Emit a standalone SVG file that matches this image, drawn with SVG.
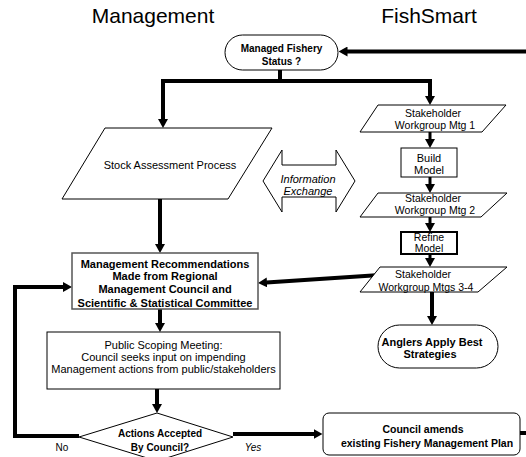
<svg xmlns="http://www.w3.org/2000/svg" width="526" height="457" viewBox="0 0 526 457">
<style>
text{font-family:"Liberation Sans",Arial,sans-serif;fill:#000;text-anchor:middle}
.t{font-size:21px}
.r{font-size:11px}
.k{font-size:10.5px}
.b{font-size:11px;font-weight:bold}
.s{font-size:10px;font-weight:bold}
.i{font-size:11px;font-style:italic}
.shape{fill:#fff;stroke:#000;stroke-width:1}
.c{fill:none;stroke:#000;stroke-width:4;stroke-linejoin:miter}
.c3{fill:none;stroke:#000;stroke-width:3}
</style>
<defs>
<marker id="ah" viewBox="0 0 9 10" refX="0.5" refY="5" markerWidth="9" markerHeight="10" markerUnits="userSpaceOnUse" orient="auto">
<path d="M0,0 L9,5 L0,10 z" fill="#000"/>
</marker>
</defs>
<rect width="526" height="457" fill="#fff"/>
<text class="t" x="153" y="23">Management</text>
<text class="t" x="429" y="23">FishSmart</text>
<g id="connectors">
<path class="c" d="M526,51.5 H347" marker-end="url(#ah)"/>
<path class="c" d="M280,70 V81"/>
<path class="c" d="M161,81 H432"/>
<path class="c" d="M163,81 V119.5" marker-end="url(#ah)"/>
<path class="c" d="M430,81 V96.5" marker-end="url(#ah)"/>
<path class="c" d="M160,199 V244.5" marker-end="url(#ah)"/>
<path class="c" d="M160,309 V323.5" marker-end="url(#ah)"/>
<path class="c" d="M157,389 V404.5" marker-end="url(#ah)"/>
<path class="c" d="M79,436 H15 V287 H63.5" marker-end="url(#ah)"/>
<path class="c" d="M233,434 H314" marker-end="url(#ah)"/>
<path class="c" d="M520,433 H526"/>
<path class="c" d="M380,275 L266.5,282.4" marker-end="url(#ah)"/>
<path class="c" d="M432,292 V316.5" marker-end="url(#ah)"/>
<path class="c3" d="M430,132 V139.5" marker-end="url(#ah)"/>
<path class="c3" d="M430,177 V184.5" marker-end="url(#ah)"/>
<path class="c3" d="M430,217 V223.5" marker-end="url(#ah)"/>
<path class="c3" d="M430,254 V258.5" marker-end="url(#ah)"/>
</g>
<g id="status">
<rect class="shape" x="225" y="35" width="113" height="35" rx="17.5"/>
<text class="s" x="281.5" y="52">Managed Fishery</text>
<text class="s" x="281.5" y="64.5">Status ?</text>
</g>
<g id="stock">
<polygon class="shape" points="105,128 272,128 228,199 62,199"/>
<text class="r" x="170" y="169">Stock Assessment Process</text>
</g>
<g id="exchange">
<polygon class="shape" points="263,181 282,150 282,165 336,165 336,150 355,181 336,212 336,197 282,197 282,212"/>
<text class="i" x="308" y="183">Information</text>
<text class="i" x="308" y="195">Exchange</text>
</g>
<g id="mtg1">
<polygon class="shape" points="378,105 506,105 482,132 360,132"/>
<text class="k" x="433" y="117">Stakeholder</text>
<text class="k" x="435" y="129">Workgroup Mtg 1</text>
</g>
<g id="build">
<rect class="shape" x="401" y="148" width="56" height="29"/>
<text class="r" x="429" y="162">Build</text>
<text class="r" x="429" y="174">Model</text>
</g>
<g id="mtg2">
<polygon class="shape" points="378,193 507,193 481,217 360,217"/>
<text class="k" x="433" y="202">Stakeholder</text>
<text class="k" x="435" y="214">Workgroup Mtg 2</text>
</g>
<g id="refine">
<rect class="shape" x="401" y="232" width="56" height="22" style="stroke-width:2"/>
<text class="k" x="429" y="241">Refine</text>
<text class="k" x="429" y="252">Model</text>
</g>
<g id="mtg34">
<polygon class="shape" points="380,267 507,267 478,292 360,292"/>
<text class="k" x="423" y="278">Stakeholder</text>
<text class="k" x="426" y="290.5">Workgroup Mtgs 3-4</text>
</g>
<g id="anglers">
<rect class="shape" x="378" y="325" width="120" height="43" rx="21.5"/>
<text class="b" x="432" y="345.5">Anglers Apply Best</text>
<text class="b" x="430" y="358">Strategies</text>
</g>
<g id="recommend">
<rect class="shape" x="72" y="253" width="186" height="56" style="stroke:#555;stroke-width:1.5"/>
<text class="b" x="165" y="268">Management Recommendations</text>
<text class="b" x="165" y="280">Made from Regional</text>
<text class="b" x="165" y="293">Management Council and</text>
<text class="b" x="165" y="306.5">Scientific &amp; Statistical Committee</text>
</g>
<g id="scoping">
<rect class="shape" x="47" y="332" width="233" height="57"/>
<text class="r" x="163.5" y="349">Public Scoping Meeting:</text>
<text class="r" x="163.5" y="361">Council seeks input on impending</text>
<text class="r" x="163.5" y="373">Management actions from public/stakeholders</text>
</g>
<g id="decision">
<polygon class="shape" points="157,413 233,437 157,461 79,437"/>
<text class="s" x="160" y="437">Actions Accepted</text>
<text class="s" x="160" y="450.5">By Council?</text>
</g>
<g id="amends">
<rect class="shape" x="323" y="413" width="197" height="42" rx="6"/>
<text class="s" x="423" y="433" style="font-size:10.5px">Council amends</text>
<text class="s" x="427" y="447" style="font-size:10.5px">existing Fishery Management Plan</text>
</g>
<text class="s" x="62" y="450.5" style="font-weight:normal">No</text>
<text class="s" x="253" y="450.5" style="font-weight:normal;font-style:italic">Yes</text>
</svg>
